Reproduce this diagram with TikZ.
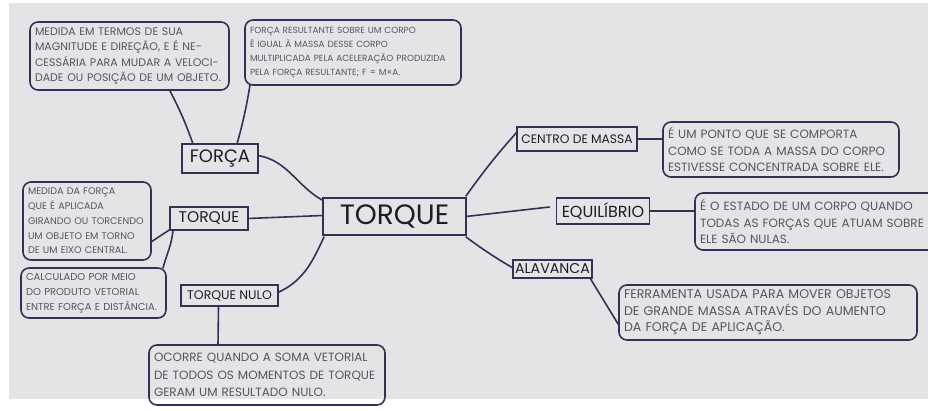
\documentclass[tikz,border=0pt]{standalone}
\usepackage{fontspec}
\setmainfont{Poppins}
\begin{document}
\begin{tikzpicture}[x=1pt,y=-1pt,
  every node/.style={inner sep=0pt, outer sep=0pt},
  ln/.style={draw=linec, line width=1.6pt, line cap=round},
  tbox/.style={draw=linec, line width=1.6pt, rounded corners=8pt, align=left,
     text=textc, inner xsep=5pt, inner ysep=3pt, anchor=center},
  lab/.style={draw=linec, line width=1.6pt, text=labc, align=center, anchor=center}
]
\definecolor{linec}{HTML}{3B2D55}
\definecolor{textc}{HTML}{55555C}
\definecolor{labc}{HTML}{1E1E22}
\definecolor{paper}{HTML}{E4E4E7}
\clip (0,0) rectangle (928,411);
\fill[white] (0,0) rectangle (928,411);
\fill[paper] (9,3) rectangle (928,399);

% text boxes
\node[tbox, text width=189pt, minimum height=68pt, font=\fontsize{11}{15.5}\selectfont] (b1) at (129.5,56)
 {MEDIDA EM TERMOS DE SUA\\MAGNITUDE E DIREÇÃO, E É NE-\\CESSÁRIA PARA MUDAR A VELOCI-\\DADE OU POSIÇÃO DE UM OBJETO.};
\node[tbox, text width=206pt, minimum height=65pt, font=\fontsize{8.9}{14}\selectfont] (b2) at (353,52.5)
 {FORÇA RESULTANTE SOBRE UM CORPO\\É IGUAL À MASSA DESSE CORPO\\MULTIPLICADA PELA ACELERAÇÃO PRODUZIDA\\PELA FORÇA RESULTANTE; F = M×A.};
\node[tbox, text width=118pt, minimum height=78pt, font=\fontsize{9.6}{14.8}\selectfont] (b4) at (87,221)
 {MEDIDA DA FORÇA\\QUE É APLICADA\\GIRANDO OU TORCENDO\\UM OBJETO EM TORNO\\DE UM EIXO CENTRAL.};
\node[tbox, text width=135pt, minimum height=50pt, font=\fontsize{10}{14.8}\selectfont] (b6) at (93.5,293)
 {CALCULADO POR MEIO\\DO PRODUTO VETORIAL\\ENTRE FORÇA E DISTÂNCIA.};
\node[tbox, text width=226pt, minimum height=60pt, font=\fontsize{12}{17.5}\selectfont] (b8) at (267,375)
 {OCORRE QUANDO A SOMA VETORIAL\\DE TODOS OS MOMENTOS DE TORQUE\\GERAM UM RESULTADO NULO.};
\node[tbox, text width=226pt, minimum height=55pt, font=\fontsize{12}{16.5}\selectfont] (b11) at (781,149.5)
 {É UM PONTO QUE SE COMPORTA\\COMO SE TODA A MASSA DO CORPO\\ESTIVESSE CONCENTRADA SOBRE ELE.};
\node[tbox, text width=236pt, minimum height=57pt, font=\fontsize{12}{16.5}\selectfont] (b13) at (818,221.5)
 {É O ESTADO DE UM CORPO QUANDO\\TODAS AS FORÇAS QUE ATUAM SOBRE\\ELE SÃO NULAS.};
\node[tbox, text width=288pt, minimum height=55pt, font=\fontsize{12.6}{16.5}\selectfont] (b15) at (768,312.5)
 {FERRAMENTA USADA PARA MOVER OBJETOS\\DE GRANDE MASSA ATRAVÉS DO AUMENTO\\DA FORÇA DE APLICAÇÃO.};

% labels
\node[lab, minimum width=76pt, minimum height=29pt, font=\fontsize{18}{18}\selectfont] (forca) at (220,158.5) {FORÇA};
\node[lab, minimum width=78pt, minimum height=23pt, font=\fontsize{15.5}{15.5}\selectfont] (tqs) at (209,218.5) {TORQUE};
\node[lab, minimum width=97pt, minimum height=21pt, font=\fontsize{12.5}{12.5}\selectfont] (tqn) at (229.5,295.5) {TORQUE NULO};
\node[lab, minimum width=143pt, minimum height=37pt, font=\fontsize{28}{28}\selectfont] (tq) at (394.5,216.5) {TORQUE};
\node[lab, minimum width=120pt, minimum height=24pt, font=\fontsize{12.3}{12.3}\selectfont] (cm) at (577,139) {CENTRO DE MASSA};
\node[lab, minimum width=93pt, minimum height=26pt, font=\fontsize{16}{16}\selectfont] (eq) at (603,211) {EQUILÍBRIO};
\node[lab, minimum width=79pt, minimum height=18pt, font=\fontsize{14.2}{14.2}\selectfont] (al) at (552.5,269) {ALAVANCA};

% connectors
\draw[ln] ([xshift=40pt]b1.south) to[bend left=4] ([xshift=-27pt]forca.north);
\draw[ln] ([xshift=-103pt]b2.south) to[bend left=3] ([xshift=17pt]forca.north);
\draw[ln] ([yshift=3pt]forca.east) to[out=-10,in=150] ([xshift=-1pt,yshift=-2pt]tq.north west);
\draw[ln] (tqs.east) -- ([yshift=1pt]tq.west);
\draw[ln] ([yshift=-21pt]b4.east) -- ([yshift=-11pt]tqs.west);
\draw[ln] ([xshift=3pt]tqs.south west) to[out=-95,in=75] ([xshift=-3pt]b6.north east);
\draw[ln] ([xshift=1pt,yshift=-2pt]tq.south west) to[out=-115,in=25] ([yshift=3pt]tqn.east);
\draw[ln] ([xshift=-11pt]tqn.south) -- ([xshift=-49pt]b8.north);
\draw[ln] ([yshift=2pt]tq.north east) to[bend left=3] ([yshift=7pt]cm.west);
\draw[ln] (cm.east) -- (b11.west |- cm.east);
\draw[ln] (tq.east) -- ([xshift=-7pt,yshift=4pt]eq.west);
\draw[ln] (eq.east) -- (b13.west |- eq.east);
\draw[ln] ([yshift=-2pt]tq.south east) to[bend right=3] ([yshift=1pt]al.west);
\draw[ln] ([xshift=-2pt]al.south east) -- ([yshift=-13pt]b15.west);
\end{tikzpicture}
\end{document}
